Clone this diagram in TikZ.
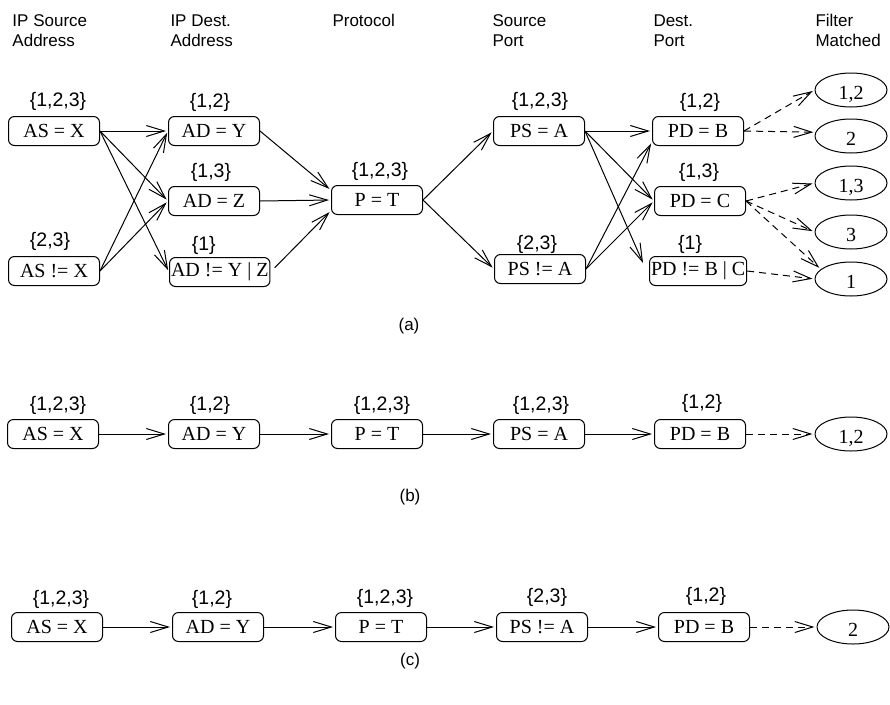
\documentclass[tikz,border=0pt]{standalone}
\usepackage{fontspec}
\setmainfont{Liberation Serif}
\setsansfont{Liberation Sans}
\usetikzlibrary{arrows.meta,shapes.geometric}
\begin{document}
\begin{tikzpicture}[x=1pt,y=-1pt,line width=1pt,
  cond/.style={draw,rounded corners=6pt,minimum width=91pt,minimum height=29pt,
    inner xsep=1.5pt,inner ysep=0pt,font=\fontsize{20}{22}\selectfont},
  outcome/.style={draw,ellipse,minimum width=72pt,minimum height=34pt,inner sep=0pt,
    text height=19pt,text depth=0pt,font=\fontsize{20}{22}\selectfont},
  tag/.style={font=\sffamily\fontsize{19.5}{22}\selectfont,inner sep=0pt},
  colhead/.style={font=\sffamily\fontsize{17}{20}\selectfont,align=left,
    anchor=north west,inner sep=0pt},
  subcap/.style={font=\sffamily\fontsize{17}{20}\selectfont,inner sep=0pt},
  link/.style={-{Straight Barb[length=18pt,width=11pt]},shorten >=2pt},
  match/.style={link,dash pattern=on 7pt off 5pt}]
\useasboundingbox (0,0) rectangle (890,704);

% column headings
\node[colhead] (h1) at (12,14) {IP Source\\Address};
\node[colhead] (h2) at (170,14) {IP Dest.\\Address};
\node[colhead] (h3) at (332,14) {Protocol};
\node[colhead] (h4) at (492,14) {Source\\Port};
\node[colhead] (h5) at (653,14) {Dest.\\Port};
\node[colhead] (h6) at (815,14) {Filter\\Matched};

% ---------- (a) full search graph ----------
\node[cond] (a1) at (54,131) {AS = X};
\node[cond] (a2) at (54,271) {AS != X};
\node[cond] (d1) at (214,131) {AD = Y};
\node[cond] (d2) at (214,201) {AD = Z};
\node[cond,anchor=west] (d3) at (169,272) {AD != Y | Z};
\node[cond] (p) at (377,200) {P = T};
\node[cond] (s1) at (539,131) {PS = A};
\node[cond] (s2) at (540,269) {PS != A};
\node[cond] (t1) at (698,131) {PD = B};
\node[cond] (t2) at (700,201) {PD = C};
\node[cond,anchor=west] (t3) at (649,271) {PD != B | C};
\node[outcome] (f12) at (851,90) {1,2};
\node[outcome] (f2) at (851,136) {2};
\node[outcome] (f13) at (851,183) {1,3};
\node[outcome] (f3) at (851,232) {3};
\node[outcome] (f1) at (851,279) {1};

\node[tag] at ([xshift=4pt,yshift=15pt]a1.north) {\{1,2,3\}};
\node[tag] at ([xshift=-4pt,yshift=15pt]a2.north) {\{2,3\}};
\node[tag] at ([xshift=-4pt,yshift=14pt]d1.north) {\{1,2\}};
\node[tag] at ([xshift=-3pt,yshift=14pt]d2.north) {\{1,3\}};
\node[tag] at ([xshift=-16pt,yshift=12pt]d3.north) {\{1\}};
\node[tag] at ([xshift=3pt,yshift=14pt]p.north) {\{1,2,3\}};
\node[tag] at ([xshift=1pt,yshift=15pt]s1.north) {\{1,2,3\}};
\node[tag] at ([xshift=-3pt,yshift=10pt]s2.north) {\{2,3\}};
\node[tag] at ([xshift=2pt,yshift=14pt]t1.north) {\{1,2\}};
\node[tag] at ([xshift=-1pt,yshift=14pt]t2.north) {\{1,3\}};
\node[tag] at ([xshift=-8pt,yshift=12pt]t3.north) {\{1\}};

\draw[link] (a1.east) -- (d1.west);
\draw[link] (a1.east) -- (d2.west);
\draw[link] (a1.east) -- (d3.west);
\draw[link] (a2.east) -- (d1.west);
\draw[link] (a2.east) -- (d2.west);
\draw[link] (d1.east) -- (p.168);
\draw[link] (d2.east) -- (p.west);
\draw[link,shorten <=6pt] (d3.east) -- (p.193);
\draw[link] (p.east) -- (s1.west);
\draw[link] (p.east) -- (s2.west);
\draw[link] (s1.east) -- (t1.west);
\draw[link] (s1.east) -- (t2.west);
\draw[link,shorten >=0pt] (s1.east) -- ([xshift=-6pt,yshift=-7pt]t3.north west);
\draw[link] (s2.east) -- (t1.193);
\draw[link] (s2.east) -- (t2.west);
\draw[match] (t1.east) -- (f12.west);
\draw[match] (t1.east) -- (f2.174);
\draw[match] (t2.east) -- (f13.west);
\draw[match] (t2.east) -- (f3.west);
\draw[match] (t2.east) -- (f1.162);
\draw[match] (t3.east) -- (f1.west);

\node[subcap] (capa) at (409,326) {(a)};

% ---------- (b) path for filters 1,2 ----------
\node[cond] (ba1) at (53,434) {AS = X};
\node[cond] (bd1) at (214,434) {AD = Y};
\node[cond] (bp) at (377,434) {P = T};
\node[cond] (bs1) at (539,434) {PS = A};
\node[cond] (bt1) at (700,434) {PD = B};
\node[outcome] (bf) at (851,434) {1,2};

\node[tag] at ([xshift=5pt,yshift=14pt]ba1.north) {\{1,2,3\}};
\node[tag] at ([xshift=-4pt,yshift=14pt]bd1.north) {\{1,2\}};
\node[tag] at ([xshift=5pt,yshift=14pt]bp.north) {\{1,2,3\}};
\node[tag] at ([xshift=2pt,yshift=14pt]bs1.north) {\{1,2,3\}};
\node[tag] at ([xshift=2pt,yshift=16pt]bt1.north) {\{1,2\}};

\draw[link] (ba1.east) -- (bd1.west);
\draw[link] (bd1.east) -- (bp.west);
\draw[link] (bp.east) -- (bs1.west);
\draw[link] (bs1.east) -- (bt1.west);
\draw[match] (bt1.east) -- (bf.west);

\node[subcap] (capb) at (410,497) {(b)};

% ---------- (c) path for filter 2 ----------
\node[cond] (ca1) at (57,627) {AS = X};
\node[cond] (cd1) at (218,627) {AD = Y};
\node[cond] (cp) at (381,627) {P = T};
\node[cond] (cs2) at (542,627) {PS != A};
\node[cond] (ct1) at (704,627) {PD = B};
\node[outcome] (cf) at (853,627) {2};

\node[tag] at ([xshift=4pt,yshift=13pt]ca1.north) {\{1,2,3\}};
\node[tag] at ([xshift=-6pt,yshift=13pt]cd1.north) {\{1,2\}};
\node[tag] at ([xshift=4pt,yshift=14pt]cp.north) {\{1,2,3\}};
\node[tag] at ([xshift=5pt,yshift=15pt]cs2.north) {\{2,3\}};
\node[tag] at ([xshift=2pt,yshift=16pt]ct1.north) {\{1,2\}};

\draw[link] (ca1.east) -- (cd1.west);
\draw[link] (cd1.east) -- (cp.west);
\draw[link] (cp.east) -- (cs2.west);
\draw[link] (cs2.east) -- (ct1.west);
\draw[match] (ct1.east) -- (cf.west);

\node[subcap] (capc) at (410,661) {(c)};
\end{tikzpicture}
\end{document}
